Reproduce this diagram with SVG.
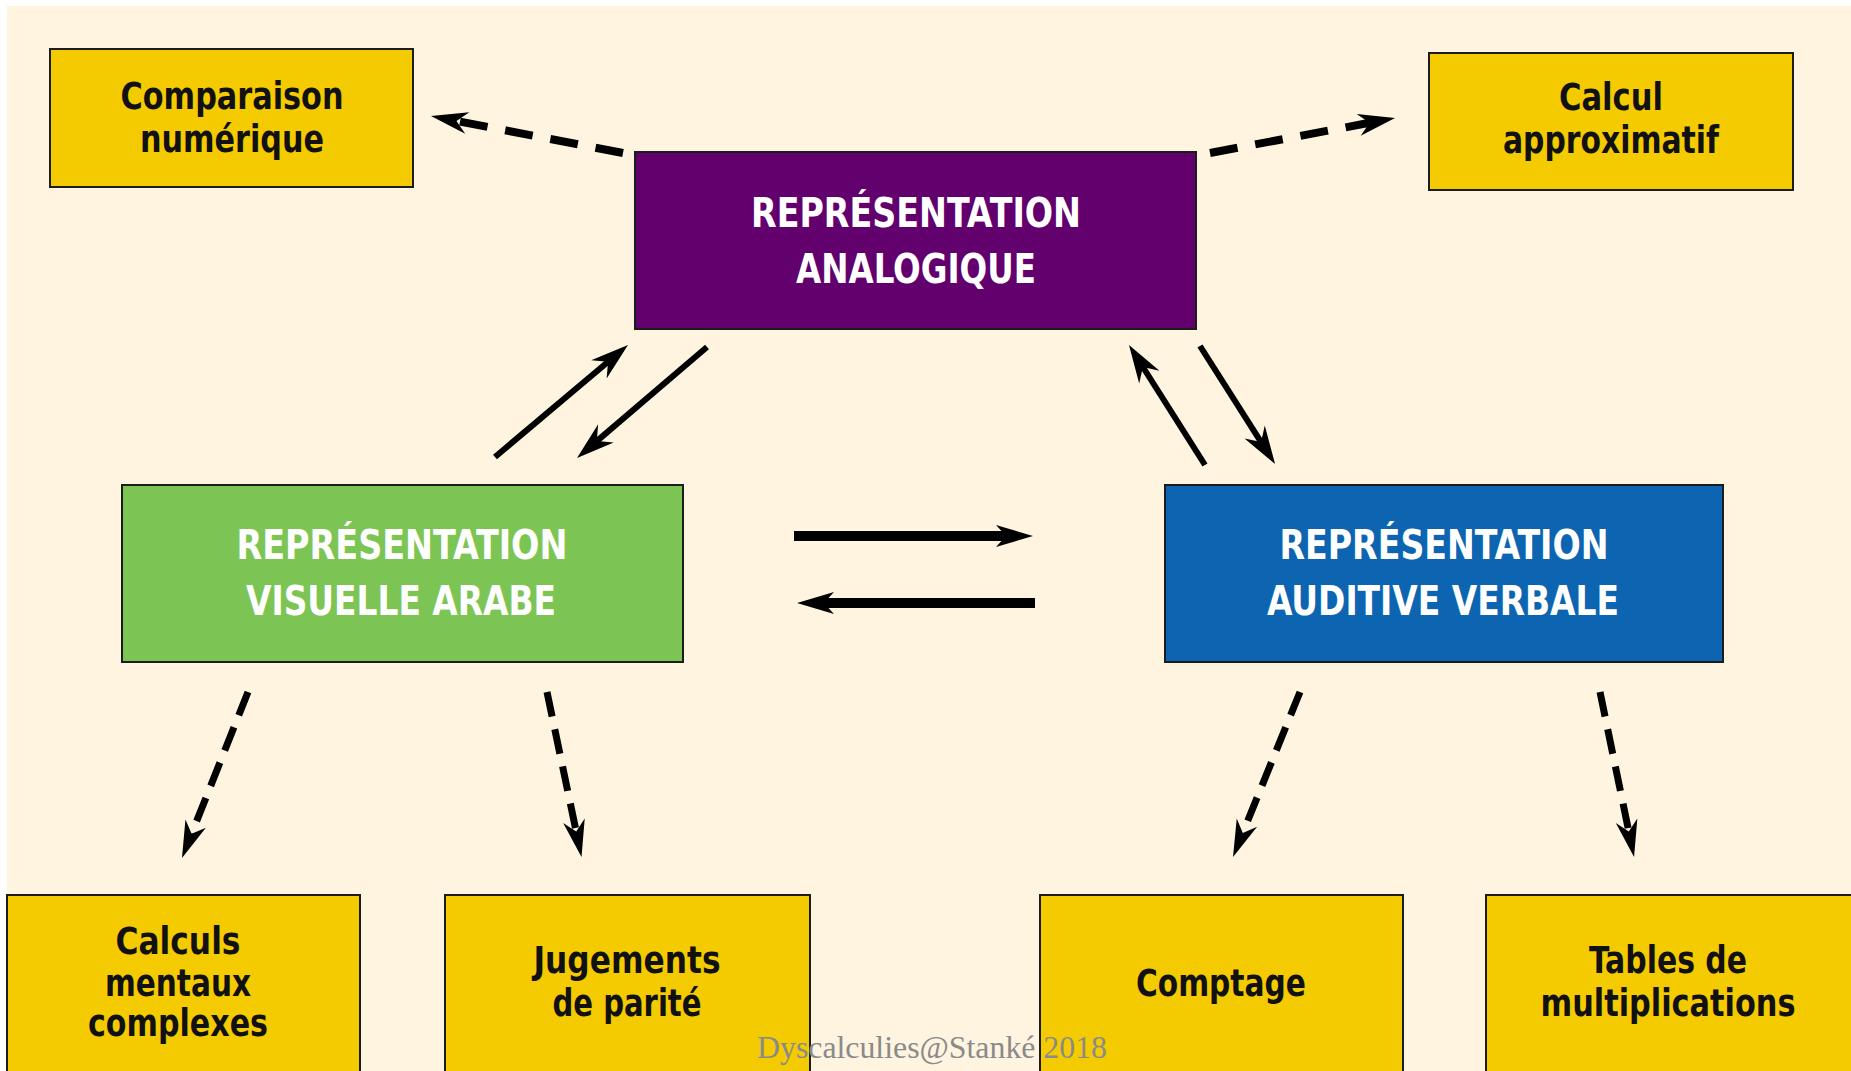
<svg xmlns="http://www.w3.org/2000/svg" width="1851" height="1071" viewBox="0 0 1851 1071">
<style>
.box{stroke:#1c1c1c;stroke-width:2}
.y{fill:#F4CA00}
.lbl{font-family:"DejaVu Sans Condensed","DejaVu Sans","Liberation Sans",sans-serif;font-stretch:condensed;font-weight:bold;font-size:37px;fill:#111;text-anchor:middle}
.hdr{font-family:"DejaVu Sans Condensed","DejaVu Sans","Liberation Sans",sans-serif;font-stretch:condensed;font-weight:bold;font-size:41px;fill:#fff;text-anchor:middle}
.solid{stroke:#000;stroke-width:6;fill:none;marker-end:url(#hs)}
.thick{stroke:#000;stroke-width:10;fill:none;marker-end:url(#hh)}
.dashT{stroke:#000;stroke-width:8;fill:none;stroke-dasharray:28 18;marker-end:url(#hd)}
.dashB{stroke:#000;stroke-width:7;fill:none;stroke-dasharray:25 13;marker-end:url(#hd)}
.wm{font-family:"Liberation Serif","Times New Roman",serif;font-size:31px;fill:#8a8a8a}
</style>
<defs>
<marker id="hs" markerUnits="userSpaceOnUse" viewBox="-14 -14 44 28" refX="0" refY="0" markerWidth="44" markerHeight="28" orient="auto" overflow="visible">
<path d="M26,0 L-12,-12 L0,0 L-12,12 Z" fill="#000"/>
</marker>
<marker id="hh" markerUnits="userSpaceOnUse" viewBox="-12 -12 42 24" refX="0" refY="0" markerWidth="42" markerHeight="24" orient="auto" overflow="visible">
<path d="M27,0 L-10,-11 L0,0 L-10,11 Z" fill="#000"/>
</marker>
<marker id="hd" markerUnits="userSpaceOnUse" viewBox="-14 -14 44 28" refX="0" refY="0" markerWidth="44" markerHeight="28" orient="auto" overflow="visible">
<path d="M26,0 L-11,-11 L0,0 L-11,11 Z" fill="#000"/>
</marker>
</defs>
<rect x="0" y="0" width="1851" height="1071" fill="#fff"/>
<rect x="7" y="6" width="1844" height="1065" fill="#FEF4DF"/>

<g id="comparaison">
<rect class="box y" x="50" y="49" width="363" height="138"/>
<text class="lbl" x="232" y="109" textLength="223" lengthAdjust="spacingAndGlyphs">Comparaison</text>
<text class="lbl" x="232" y="152" textLength="184" lengthAdjust="spacingAndGlyphs">numérique</text>
</g>
<g id="calcul-approx">
<rect class="box y" x="1429" y="53" width="364" height="137"/>
<text class="lbl" x="1611" y="110" textLength="104" lengthAdjust="spacingAndGlyphs">Calcul</text>
<text class="lbl" x="1611" y="153" textLength="216" lengthAdjust="spacingAndGlyphs">approximatif</text>
</g>
<g id="analogique">
<rect class="box" fill="#62006E" x="635" y="152" width="561" height="177"/>
<text class="hdr" x="916" y="227" textLength="330" lengthAdjust="spacingAndGlyphs">REPRÉSENTATION</text>
<text class="hdr" x="916" y="283" textLength="240" lengthAdjust="spacingAndGlyphs">ANALOGIQUE</text>
</g>
<g id="visuelle">
<rect class="box" fill="#7CC555" x="122" y="485" width="561" height="177"/>
<text class="hdr" x="402" y="559" textLength="331" lengthAdjust="spacingAndGlyphs">REPRÉSENTATION</text>
<text class="hdr" x="401" y="615" textLength="310" lengthAdjust="spacingAndGlyphs">VISUELLE ARABE</text>
</g>
<g id="auditive">
<rect class="box" fill="#0D64B0" x="1165" y="485" width="558" height="177"/>
<text class="hdr" x="1444" y="559" textLength="329" lengthAdjust="spacingAndGlyphs">REPRÉSENTATION</text>
<text class="hdr" x="1443" y="615" textLength="352" lengthAdjust="spacingAndGlyphs">AUDITIVE VERBALE</text>
</g>
<g id="calculs-mentaux">
<rect class="box y" x="7" y="895" width="353" height="190"/>
<text class="lbl" x="178" y="954" textLength="125" lengthAdjust="spacingAndGlyphs">Calculs</text>
<text class="lbl" x="178" y="996" textLength="146" lengthAdjust="spacingAndGlyphs">mentaux</text>
<text class="lbl" x="178" y="1036" textLength="180" lengthAdjust="spacingAndGlyphs">complexes</text>
</g>
<g id="parite">
<rect class="box y" x="445" y="895" width="365" height="190"/>
<text class="lbl" x="627" y="973" textLength="187" lengthAdjust="spacingAndGlyphs">Jugements</text>
<text class="lbl" x="627" y="1016" textLength="149" lengthAdjust="spacingAndGlyphs">de parité</text>
</g>
<g id="comptage">
<rect class="box y" x="1040" y="895" width="363" height="190"/>
<text class="lbl" x="1221" y="996" textLength="170" lengthAdjust="spacingAndGlyphs">Comptage</text>
</g>
<g id="tables">
<rect class="box y" x="1486" y="895" width="370" height="190"/>
<text class="lbl" x="1668" y="973" textLength="158" lengthAdjust="spacingAndGlyphs">Tables de</text>
<text class="lbl" x="1668" y="1016" textLength="255" lengthAdjust="spacingAndGlyphs">multiplications</text>
</g>

<g id="connectors">
<line class="solid" x1="495" y1="457" x2="608.1" y2="361.7"/>
<line class="solid" x1="707" y1="347" x2="596.8" y2="441.1"/>
<line class="solid" x1="1205" y1="465" x2="1142.9" y2="367"/>
<line class="solid" x1="1200" y1="346" x2="1261.1" y2="442.1"/>
<line class="thick" x1="794" y1="536" x2="1006" y2="536"/>
<line class="thick" x1="1035" y1="603" x2="824" y2="603"/>
<line class="dashT" x1="623" y1="153" x2="456.5" y2="120.9"/>
<line class="dashT" x1="1210" y1="153" x2="1369.5" y2="122.8"/>
<line class="dashB" x1="248" y1="692" x2="191.6" y2="833.8"/>
<line class="dashB" x1="547" y1="692" x2="576.2" y2="831.6"/>
<line class="dashB" x1="1300" y1="692" x2="1242.8" y2="832.9"/>
<line class="dashB" x1="1600" y1="692" x2="1628.8" y2="831.5"/>
</g>
<text class="wm" x="757" y="1058" textLength="350" lengthAdjust="spacingAndGlyphs">Dyscalculies@Stanké 2018</text>
</svg>
